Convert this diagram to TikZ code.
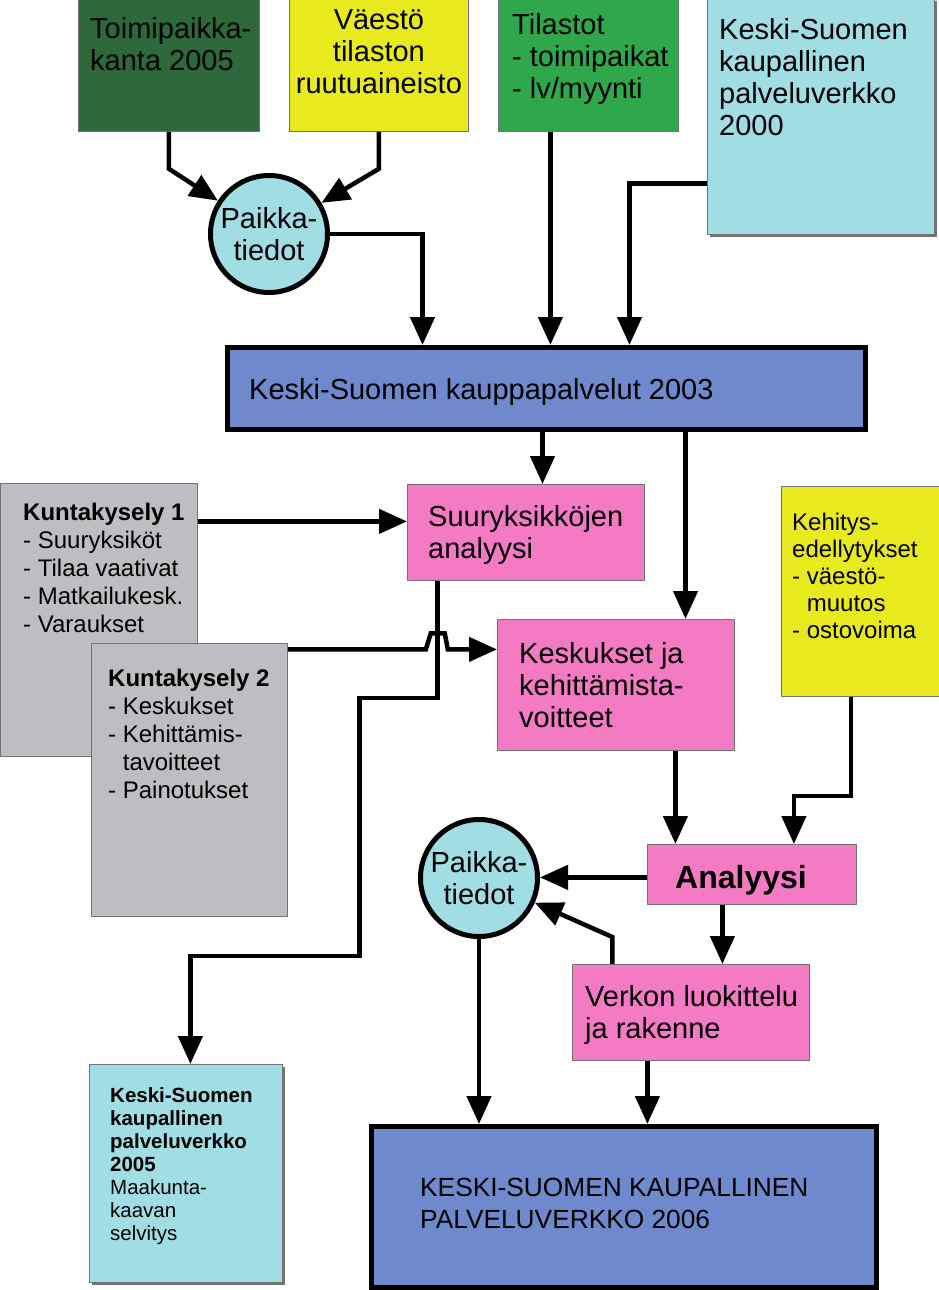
\documentclass[tikz,border=0pt]{standalone}
\usepackage{fontspec}
\setmainfont{Liberation Sans}
\usetikzlibrary{arrows.meta,positioning,shadows}

\definecolor{ksdark}{RGB}{44,104,58}
\definecolor{ksyellow}{RGB}{232,234,30}
\definecolor{ksgreen}{RGB}{46,168,74}
\definecolor{kscyan}{RGB}{160,222,228}
\definecolor{ksblue}{RGB}{111,137,205}
\definecolor{kspink}{RGB}{244,122,196}
\definecolor{ksgray}{RGB}{190,190,194}

\newcommand\fbig{\fontsize{29}{32}\selectfont}
\newcommand\fmid{\fontsize{24}{28}\selectfont}
\newcommand\fkeh{\fontsize{24}{27}\selectfont}
\newcommand\fsmall{\fontsize{20.5}{23}\selectfont}
\newcommand\fcaps{\fontsize{26.3}{32}\selectfont}

\begin{document}
\begin{tikzpicture}
            [x=1pt,y=-1pt,
             box/.style={rectangle,draw=black!55,line width=0.8pt,inner sep=0pt,anchor=north west},
             bigbox/.style={rectangle,draw=black,line width=5pt,fill=ksblue,inner sep=0pt,anchor=north west},
             place/.style={circle,draw=black,line width=5pt,fill=kscyan,minimum size=117pt,inner sep=0pt,align=center,font=\fbig},
             txt/.style={inner sep=0pt,align=left,font=\fbig},
             shade/.style={drop shadow={shadow xshift=3pt,shadow yshift=-3pt,fill=black!55,opacity=1}},
             flow/.style={line width=4.5pt,-{Triangle[length=28pt,width=24pt]}}]

            \useasboundingbox (0,0) rectangle (938,1290);

            \node (t1) [box,fill=ksdark,minimum width=181pt,minimum height=133pt] at (78,-2) {};
            \node (t2) [box,fill=ksyellow,minimum width=179pt,minimum height=133pt] at (289,-2) {};
            \node (t3) [box,fill=ksgreen,minimum width=180pt,minimum height=133pt] at (498,-2) {};
            \node (t4) [box,shade,fill=kscyan,minimum width=227pt,minimum height=236pt] at (707,-2) {};
            \node [txt,below right=19pt and 12pt of t1.north west] {Toimipaikka-\\kanta 2005};
            \node [txt,align=center,below=11pt of t2.north] {Väestö\\tilaston\\ruutuaineisto};
            \node [txt,below right=15pt and 14pt of t3.north west] {Tilastot\\- toimipaikat\\- lv/myynti};
            \node [txt,below right=20pt and 12pt of t4.north west] {Keski-Suomen\\kaupallinen\\palveluverkko\\2000};

            \node (p1) [place] at (269,234) {Paikka-\\tiedot};

            \node (k03) [bigbox,minimum width=638pt,minimum height=82pt] at (225,345) {};
            \node [txt,below right=33pt and 24pt of k03.north west] {Keski-Suomen kauppapalvelut 2003};

            \node (kk1) [box,fill=ksgray,minimum width=197pt,minimum height=273pt] at (0,483) {};
            \node (kk2) [box,fill=ksgray,minimum width=196pt,minimum height=273pt] at (91,643) {};
            \node [txt,font=\fmid,below right=20pt and 23pt of kk1.north west]
                {\textbf{Kuntakysely 1}\\- Suuryksiköt\\- Tilaa vaativat\\- Matkailukesk.\\- Varaukset};
            \node [txt,font=\fmid,below right=26pt and 17pt of kk2.north west]
                {\textbf{Kuntakysely 2}\\- Keskukset\\- Kehittämis-\\\phantom{- }tavoitteet\\- Painotukset};

            \node (suur) [box,fill=kspink,minimum width=237pt,minimum height=96pt] at (407,484) {};
            \node [txt,below right=21pt and 21pt of suur.north west] {Suuryksikköjen\\analyysi};
            \node (kesk) [box,fill=kspink,minimum width=237pt,minimum height=131pt] at (497,619) {};
            \node [txt,below right=23pt and 22pt of kesk.north west] {Keskukset ja\\kehittämista-\\voitteet};
            \node (keh) [box,fill=ksyellow,minimum width=160pt,minimum height=210pt] at (781,486) {};
            \node [txt,font=\fkeh,below right=27pt and 11pt of keh.north west]
                {Kehitys-\\edellytykset\\- väestö-\\\phantom{- }muutos\\- ostovoima};

            \node (ana) [box,fill=kspink,minimum width=209pt,minimum height=60pt] at (647,844) {};
            \node [txt,font=\fontsize{32}{34}\selectfont\bfseries,below right=21pt and 28pt of ana.north west] {Analyysi};
            \node (p2) [place] at (479,878) {Paikka-\\tiedot};
            \node (verk) [box,fill=kspink,minimum width=237pt,minimum height=96pt] at (572,964) {};
            \node [txt,below right=21pt and 13pt of verk.north west] {Verkon luokittelu\\ja rakenne};

            \node (b05) [box,shade,fill=kscyan,minimum width=193pt,minimum height=218pt] at (89,1064) {};
            \node [txt,font=\fsmall,below right=23pt and 21pt of b05.north west]
                {\textbf{Keski-Suomen}\\\textbf{kaupallinen}\\\textbf{palveluverkko}\\\textbf{2005}\\Maakunta-\\kaavan\\selvitys};
            \node (b06) [bigbox,minimum width=505pt,minimum height=161pt] at (369,1124) {};
            \node [txt,font=\fcaps,below right=54pt and 51pt of b06.north west]
                {KESKI-SUOMEN KAUPALLINEN\\PALVELUVERKKO 2006};

            \draw [flow] (t1.south) -- ++(0,37) -- (p1);
            \draw [flow] (t2.south) -- ++(0,37) -- (p1);
            \draw [flow] (p1.east) -| ([xshift=-124pt]k03.north);
            \draw [flow] ([xshift=-38pt]t3.south) coordinate (d) -- (d |- k03.north);
            \draw [flow] ([yshift=-67pt]t4.west) -| ([xshift=83pt]k03.north);

            \draw [flow] ([xshift=-4pt]k03.south) coordinate (f) -- (f |- suur.north);
            \draw [flow] ([xshift=139pt]k03.south) coordinate (g) -- (g |- kesk.north);
            \draw [flow] ([yshift=98.5pt]kk1.east) coordinate (h) -- (h -| suur.west);
            \draw [flow] ([yshift=130.5pt]kk2.east) coordinate (i) -- ++(138,0) -- ++(5,-16) -- ++(14,0) -- ++(3,16) -- (i -| kesk.west);
            \draw [flow] ([xshift=-88.5pt]suur.south) -- ++(0,117) -- ++(-78,0) -- ++(0,258) -| ([xshift=4.5pt]b05.north);

            \draw [flow] ([xshift=59.5pt]kesk.south) coordinate (k) -- (k |- ana.north);
            \draw [flow] ([xshift=-10.5pt]keh.south) -- ++(0,99) -| ([xshift=42pt]ana.north);
            \draw [flow] ([yshift=-3pt]ana.west) coordinate (m) -- (m -| p2.east);
            \draw [flow] ([xshift=-78.5pt]verk.north) -- ++(0,-27) -- (p2);
            \draw [flow] ([xshift=-29.5pt]ana.south) coordinate (o) -- (o |- verk.north);
            \draw [flow] (p2.south) -- (p2.south |- b06.north);
            \draw [flow] ([xshift=-43.5pt]verk.south) coordinate (q) -- (q |- b06.north);
        \end{tikzpicture}
\end{document}
